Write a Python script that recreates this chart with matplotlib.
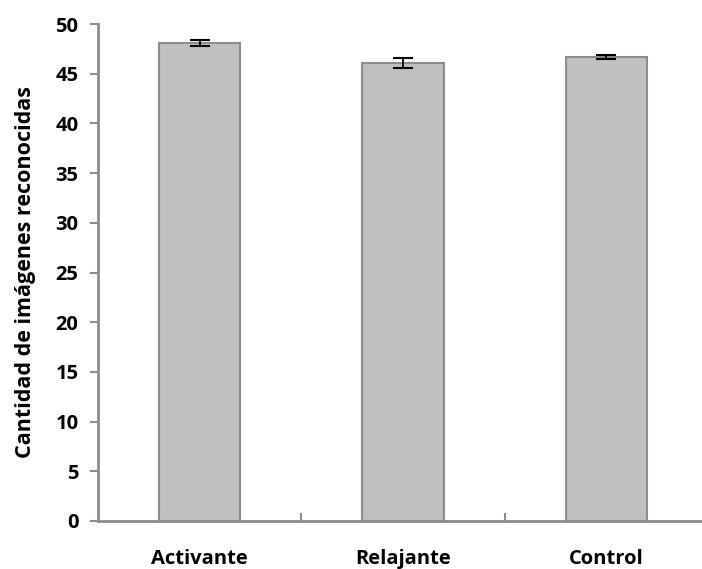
import matplotlib
matplotlib.use("Agg")
import matplotlib.pyplot as plt
from matplotlib.ticker import FixedLocator

categories = ["Activante", "Relajante", "Control"]
values = [48.1, 46.1, 46.7]
errors = [0.3, 0.5, 0.2]
yticks = [0, 5, 10, 15, 20, 25, 30, 35, 40, 45, 50]

plt.rcParams['font.family'] = ['Open Sans', 'DejaVu Sans']

fig = plt.figure(figsize=(7.02, 5.69), dpi=100)
ax = fig.add_axes([98/702, 1-521/569, 1-98/702, (521-24)/569])

x = list(range(len(categories)))
ax.bar(x, values, width=0.4, color="#C0C0C0", edgecolor="#8C8C8C", linewidth=1.5, zorder=2)
ax.errorbar(x, values, yerr=errors, fmt="none", ecolor="black", elinewidth=1.3, capsize=7, capthick=1.5, zorder=3)

ax.set_xlim(-0.5, 2.47)
ax.set_ylim(0, 50)
ax.set_yticks(yticks)
ax.set_yticklabels([str(v) for v in yticks], fontsize=14.5, fontweight="bold")

ax.xaxis.set_major_locator(FixedLocator([0.5, 1.5]))
ax.xaxis.set_major_formatter(plt.NullFormatter())
ax.xaxis.set_minor_locator(FixedLocator(x))
ax.set_xticklabels(categories, minor=True, fontsize=14.5, fontweight="bold")
ax.tick_params(axis="x", which="major", direction="in", length=6, width=1.5, color="#8C8C8C")
ax.tick_params(axis="x", which="minor", length=0, pad=20)
ax.tick_params(axis="y", direction="out", length=6, width=1.5, color="#8C8C8C", pad=8)

for s in ["top", "right"]:
    ax.spines[s].set_visible(False)
for s in ["left", "bottom"]:
    ax.spines[s].set_color("#8C8C8C")
    ax.spines[s].set_linewidth(2)

ax.set_ylabel("Cantidad de imágenes reconocidas", fontsize=15.5, fontweight="bold", labelpad=14)

fig.savefig("out.png", dpi=100)
